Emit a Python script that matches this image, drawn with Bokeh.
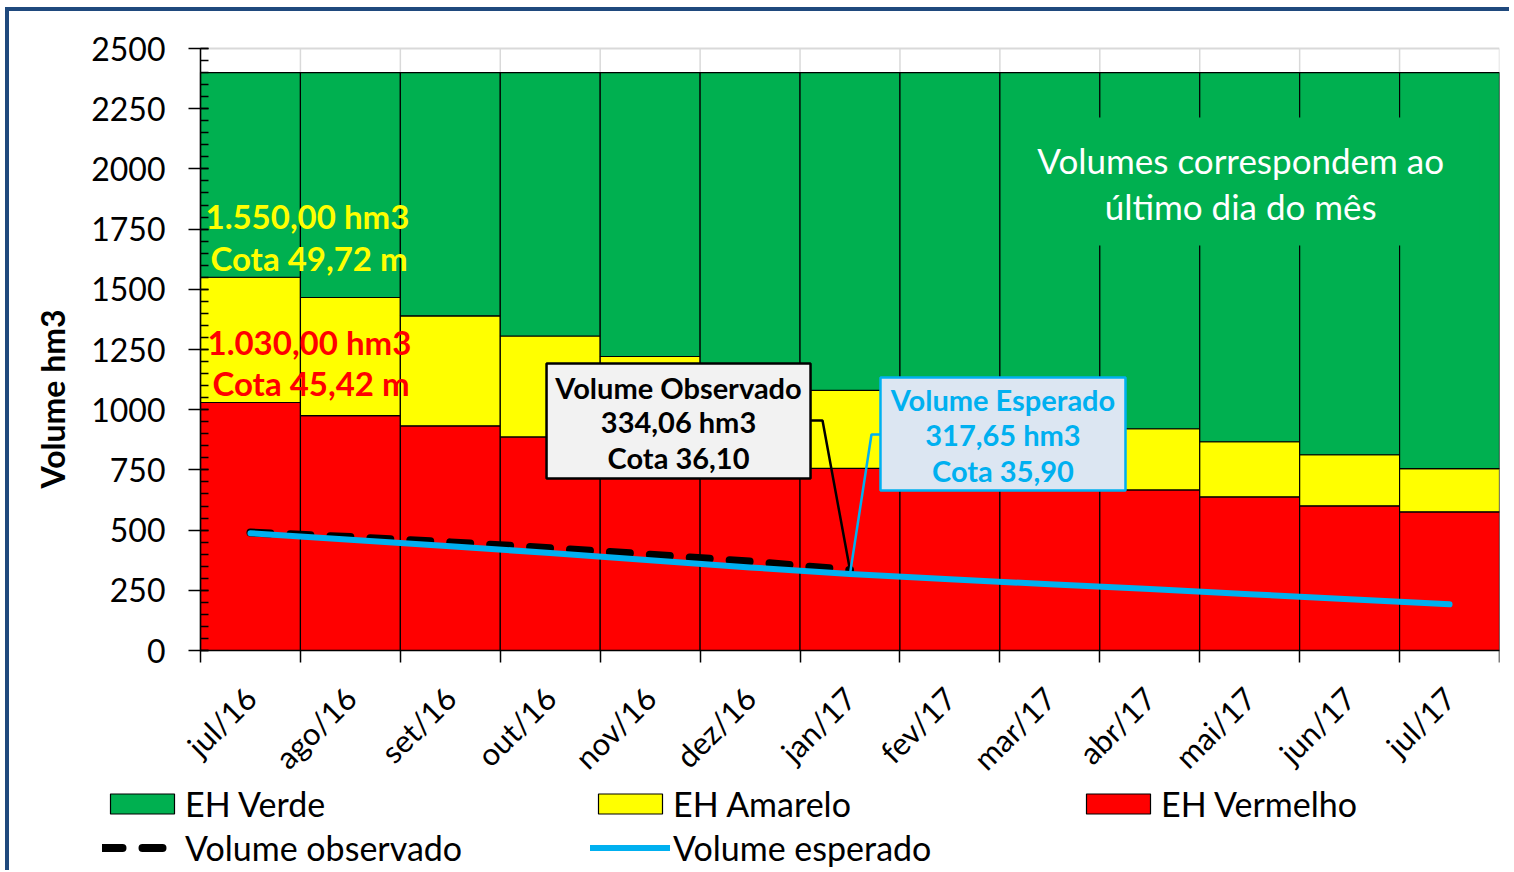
import math
from bokeh.plotting import figure
from bokeh.models import Range1d, FixedTicker, Legend, LegendItem, Title
from bokeh.core.properties import value
from bokeh.embed import file_html
from bokeh.resources import INLINE

# ---------------- data ----------------
meses = ["jul/16", "ago/16", "set/16", "out/16", "nov/16", "dez/16", "jan/17",
         "fev/17", "mar/17", "abr/17", "mai/17", "jun/17", "jul/17"]
limite_vermelho = [1030, 975, 933, 887, 845, 800, 756, 725, 697, 667, 638, 601, 576]
limite_amarelo = [1550, 1466, 1390, 1306, 1221, 1150, 1080, 1025, 972, 921, 867, 813, 755]
limite_verde = [2400] * 13
volume_esperado = [487, 460, 433, 405, 375, 345, 317.65, 296, 275, 255, 234, 213, 192]
volume_observado = [490, 471, 449, 425, 398, 369, 334.06]
y_ticks = list(range(0, 2501, 250))

FONT = value("Lato")
GREEN, YELLOW, RED, BLUE = "#00B050", "#FFFF00", "#FF0000", "#00B0F0"

# axis extent and plotting window (extra room around for axis labels and legend)
Y_MAX = 2500
X_LEFT, X_RIGHT = -1.781, 12.5
Y_BOTTOM, Y_TOP = -913.6, 2570.6

x = list(range(len(meses)))
bounds = [i - 0.5 for i in range(len(meses) + 1)]

p = figure(frame_width=1427, frame_height=839, x_range=Range1d(X_LEFT, X_RIGHT),
           y_range=Range1d(Y_BOTTOM, Y_TOP), output_backend="svg", toolbar_location=None,
           min_border_left=63, min_border_right=10, min_border_top=20, min_border_bottom=0)
p.styles = {"margin-left": "5px", "margin-top": "7px",
            "border-top": "4px solid #1F497D", "border-left": "4px solid #1F497D"}
p.outline_line_color = None
p.background_fill_color = "white"
p.border_fill_color = "white"

# grid lines (only the part above the bars is visible)
p.xgrid.visible = False
p.ygrid.visible = False
p.segment(x0=[bounds[0]], y0=[Y_MAX], x1=[bounds[-1]], y1=[Y_MAX],
          line_color="#D9D9D9", line_width=2)
p.segment(x0=bounds, y0=[max(limite_verde)] * len(bounds), x1=bounds, y1=[Y_MAX] * len(bounds),
          line_color="#D9D9D9", line_width=1.5)

# bars
r_red = p.vbar(x=x, bottom=0, top=limite_vermelho, width=1, fill_color=RED,
               line_color="black", line_width=1.2)
r_yel = p.vbar(x=x, bottom=limite_vermelho, top=limite_amarelo, width=1, fill_color=YELLOW,
               line_color="black", line_width=1.2)
r_grn = p.vbar(x=x, bottom=limite_amarelo, top=limite_verde, width=1, fill_color=GREEN,
               line_color="black", line_width=1.2)

# lines
r_obs = p.line(x[:len(volume_observado)], volume_observado, line_color="black", line_width=8,
               line_dash="20 20", line_cap="round")
r_esp = p.line(x, volume_esperado, line_color=BLUE, line_width=6, line_cap="round",
               line_join="round")

# note box (top right)
p.quad(left=[7.55], right=[12.3], bottom=[1682], top=[2213], fill_color=GREEN, line_color=None)
p.text(x=[9.91, 9.91], y=[2035, 1848],
       text=["Volumes correspondem ao", "último dia do mês"],
       text_font=FONT, text_font_size="35px", text_color="white",
       text_align="center", text_baseline="middle")

# threshold labels
p.text(x=[-0.45, -0.40], y=[1806, 1632], text=["1.550,00 hm3", "Cota 49,72 m"],
       text_font=FONT, text_font_style="bold", text_font_size="33px", text_color=YELLOW,
       text_align="left", text_baseline="middle")
p.text(x=[-0.43, -0.38], y=[1283, 1109], text=["1.030,00 hm3", "Cota 45,42 m"],
       text_font=FONT, text_font_style="bold", text_font_size="33px", text_color=RED,
       text_align="left", text_baseline="middle")

# callouts
i_last = len(volume_observado) - 1
p.line([5.605, 5.725, x[i_last]], [955, 955, volume_observado[i_last]],
       line_color="black", line_width=2.5)
p.line([6.305, 6.215, x[i_last]], [897, 897, volume_esperado[i_last]],
       line_color=BLUE, line_width=2.5)

p.quad(left=[2.963], right=[5.605], bottom=[714], top=[1192], fill_color="#F2F2F2",
       line_color="black", line_width=2.5)
p.text(x=[4.284] * 3, y=[1094, 952, 802],
       text=["Volume Observado", "334,06 hm3", "Cota 36,10"],
       text_font=FONT, text_font_style="bold", text_font_size="29px", text_color="black",
       text_align="center", text_baseline="middle")

p.quad(left=[6.305], right=[8.757], bottom=[664], top=[1134], fill_color="#DCE6F2",
       line_color=BLUE, line_width=2.5)
p.text(x=[7.531] * 3, y=[1042, 897, 748],
       text=["Volume Esperado", "317,65 hm3", "Cota 35,90"],
       text_font=FONT, text_font_style="bold", text_font_size="29px", text_color=BLUE,
       text_align="center", text_baseline="middle")

# y axis (drawn at the left edge of the bars)
ya = p.yaxis[0]
ya.fixed_location = bounds[0]
ya.bounds = (0, Y_MAX)
ya.ticker = FixedTicker(ticks=y_ticks, minor_ticks=list(range(0, 2501, 50)))
ya.major_label_text_font = "Lato"
ya.major_label_text_font_size = "32px"
ya.major_label_text_color = "black"
ya.major_label_standoff = 23
ya.major_tick_in = 8
ya.major_tick_out = 12
ya.minor_tick_in = 8
ya.minor_tick_out = 0
ya.axis_line_color = "black"
ya.axis_line_width = 1.5
ya.major_tick_line_color = "black"
ya.major_tick_line_width = 1.5
ya.minor_tick_line_color = "black"
ya.minor_tick_line_width = 1.5

p.add_layout(Title(text="Volume hm3", align="left", offset=382, standoff=2,
                   text_font="Lato", text_font_style="bold", text_font_size="32px",
                   text_color="black"), "left")

# x axis (drawn at y = 0)
xa = p.xaxis[0]
xa.fixed_location = 0
xa.bounds = (bounds[0], bounds[-1])
xa.ticker = FixedTicker(ticks=x, minor_ticks=bounds)
xa.major_label_overrides = {i: m for i, m in zip(x, meses)}
xa.major_label_orientation = math.pi / 4
xa.major_label_text_font = "Lato"
xa.major_label_text_font_size = "31px"
xa.major_label_text_color = "black"
xa.major_label_standoff = 30
xa.major_tick_in = 0
xa.major_tick_out = 0
xa.minor_tick_in = 0
xa.minor_tick_out = 12
xa.minor_tick_line_color = "black"
xa.minor_tick_line_width = 1.5
xa.axis_line_color = "black"
xa.axis_line_width = 1.5

# legend
legend = Legend(items=[
    LegendItem(label="EH Verde", renderers=[r_grn]),
    LegendItem(label="EH Amarelo", renderers=[r_yel]),
    LegendItem(label="EH Vermelho", renderers=[r_red]),
    LegendItem(label="Volume observado", renderers=[r_obs]),
    LegendItem(label="Volume esperado", renderers=[r_esp]),
], location=(30, 2), orientation="horizontal", ncols=3,
    glyph_width=80, glyph_height=25, label_standoff=3, label_width=402, spacing=3,
    padding=0, margin=0, border_line_color=None, background_fill_alpha=0,
    label_text_font="Lato", label_text_font_size="34px", label_text_color="black")
p.add_layout(legend)

open("out.html", "w").write(file_html(p, INLINE))
